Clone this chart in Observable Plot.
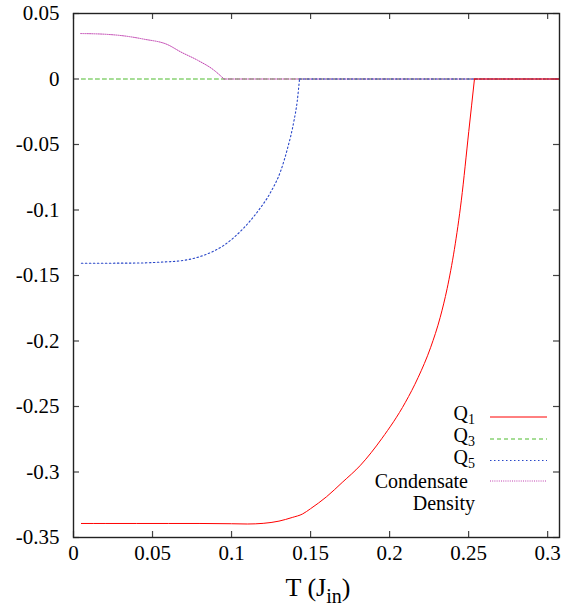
<!DOCTYPE html>
<html>
<head>
<meta charset="utf-8">
<script src="https://cdn.jsdelivr.net/npm/d3@7"></script>
<script src="https://cdn.jsdelivr.net/npm/@observablehq/plot@0.6"></script>
<style>
  body { margin: 0; background: #fff; }
  #chart { width: 572px; height: 608px; }
  #chart svg text, #chart svg tspan { font-family: "Liberation Serif", "Times New Roman", Times, "DejaVu Serif", serif !important; }
</style>
</head>
<body>
<div id="chart"></div>
<script>
// ---- data ----
const T_Q1 = [0.005, 0.02, 0.04, 0.06, 0.08, 0.1, 0.11, 0.12, 0.13, 0.1384, 0.145, 0.15, 0.16, 0.17, 0.1816, 0.195, 0.21, 0.218, 0.226, 0.232, 0.2364, 0.241, 0.2454, 0.2501, 0.2537, 0.28, 0.3075];
const Q1   = [-0.3393, -0.3393, -0.3393, -0.3393, -0.3393, -0.3395, -0.3397, -0.3392, -0.3375, -0.3347, -0.332, -0.328, -0.319, -0.308, -0.2948, -0.2746, -0.2468, -0.228, -0.2048, -0.182, -0.16, -0.13, -0.0925, -0.040, 0, 0, 0];

const T_Q3 = [0.005, 0.3075];
const Q3   = [0, 0];

const T_Q5 = [0.005, 0.02, 0.04, 0.055, 0.07, 0.0826, 0.0952, 0.1079, 0.1163, 0.1247, 0.131, 0.1353, 0.1394, 0.1416, 0.143, 0.2, 0.3075];
const Q5   = [-0.1406, -0.1406, -0.1405, -0.1398, -0.1384, -0.1345, -0.1269, -0.1135, -0.1015, -0.0865, -0.0705, -0.0535, -0.0325, -0.0165, 0, 0, 0];

const T_CD = [0.0046, 0.0194, 0.032, 0.0446, 0.0594, 0.0678, 0.0784, 0.0889, 0.0952, 0.2, 0.3075];
const CD   = [0.0347, 0.0342, 0.0329, 0.0304, 0.0263, 0.0207, 0.0144, 0.0067, 0, 0, 0];

const xTicks = [0, 0.05, 0.1, 0.15, 0.2, 0.25, 0.3];
const xTickLabels = ["0", "0.05", "0.1", "0.15", "0.2", "0.25", "0.3"];
const yTicks = [0.05, 0, -0.05, -0.1, -0.15, -0.2, -0.25, -0.3, -0.35];
const yTickLabels = ["0.05", "0", "-0.05", "-0.1", "-0.15", "-0.2", "-0.25", "-0.3", "-0.35"];

const colors = {Q1: "#ff0000", Q3: "#4cbb2c", Q5: "#2846c8", CD: "#c040b0"};
const dashes = {Q1: null, Q3: "4,3", Q5: "1.5,2.5", CD: "1,1.2"};

const toRows = (T, V) => T.map((t, i) => ({t, v: V[i]}));
// split a series at its first zero: smooth curved part, straight zero part
function parts(T, V) {
  const rows = toRows(T, V);
  const k = V.findIndex(v => v === 0);
  return [rows.slice(0, k + 1), rows.slice(k)];
}

const W = 572, H = 608;
const mL = 73, mR = 13, mT = 13, mB = 71;
const font = "Liberation Serif, Times New Roman, Times, DejaVu Serif, serif";

function seriesMarks(T, V, key, sw) {
  const [curved, flat] = parts(T, V);
  const opts = {x: "t", y: "v", stroke: colors[key], strokeWidth: sw, strokeDasharray: dashes[key]};
  return [
    Plot.line(curved, {...opts, curve: "monotone-x"}),
    Plot.line(flat, {...opts, curve: "linear"})
  ];
}

const plot = Plot.plot({
  width: W, height: H,
  marginLeft: mL, marginRight: mR, marginTop: mT, marginBottom: mB,
  style: {fontFamily: font, fontSize: "21px", background: "#fff", color: "#000"},
  x: {domain: [0, 0.3075]},
  y: {domain: [-0.35, 0.05]},
  marks: [
    Plot.axisX(xTicks, {tickSize: 0, tickPadding: 8, tickFormat: d => xTickLabels[xTicks.indexOf(d)], fontSize: 21, label: null}),
    Plot.axisY(yTicks, {tickSize: 0, tickPadding: 14, tickFormat: d => yTickLabels[yTicks.indexOf(d)], fontSize: 21, label: null}),
    // inward ticks (bottom, top, left, right)
    Plot.tickX(xTicks, {x: d => d, insetTop: 518, stroke: "#444", strokeWidth: 1.2}),
    Plot.tickX(xTicks, {x: d => d, insetBottom: 518, stroke: "#444", strokeWidth: 1.2}),
    Plot.tickY(yTicks, {y: d => d, insetRight: 480, stroke: "#444", strokeWidth: 1.2}),
    Plot.tickY(yTicks, {y: d => d, insetLeft: 480, stroke: "#444", strokeWidth: 1.2}),
    Plot.line(toRows(T_Q3, Q3), {x: "t", y: "v", stroke: colors.Q3, strokeWidth: 1, strokeDasharray: dashes.Q3}),
    ...seriesMarks(T_CD, CD, "CD", 1),
    ...seriesMarks(T_Q5, Q5, "Q5", 1.1),
    ...seriesMarks(T_Q1, Q1, "Q1", 1),
    Plot.frame({stroke: "#222", strokeWidth: 1.4})
  ]
});

document.getElementById("chart").appendChild(plot);

// ---- legend and x label (with subscripts) ----
const svg = d3.select(plot);
const legend = svg.append("g").attr("font-family", font).attr("font-size", 20).attr("fill", "#000");
const rows = [
  {key: "Q1", sub: "1", y: 417},
  {key: "Q3", sub: "3", y: 439},
  {key: "Q5", sub: "5", y: 460.5}
];
rows.forEach(r => {
  const t = legend.append("text").attr("x", 475).attr("y", r.y + 3).attr("text-anchor", "end");
  t.append("tspan").text("Q");
  t.append("tspan").attr("dy", 4).attr("font-size", 14).text(r.sub);
  legend.append("line").attr("x1", 490).attr("x2", 547).attr("y1", r.y).attr("y2", r.y)
    .attr("stroke", colors[r.key]).attr("stroke-width", r.key === "Q5" ? 1.1 : 1)
    .attr("stroke-dasharray", dashes[r.key]);
});
legend.append("text").attr("x", 468).attr("y", 488).attr("text-anchor", "end").text("Condensate");
legend.append("text").attr("x", 475).attr("y", 510).attr("text-anchor", "end").text("Density");
legend.append("line").attr("x1", 490).attr("x2", 547).attr("y1", 481).attr("y2", 481)
  .attr("stroke", colors.CD).attr("stroke-width", 1).attr("stroke-dasharray", dashes.CD);

const xl = svg.append("text").attr("x", 318).attr("y", 596).attr("text-anchor", "middle")
  .attr("font-family", font).attr("font-size", 26).attr("fill", "#000");
xl.append("tspan").text("T (J");
xl.append("tspan").attr("dy", 7).attr("font-size", 20).text("in");
xl.append("tspan").attr("dy", -7).text(")");
</script>
</body>
</html>
